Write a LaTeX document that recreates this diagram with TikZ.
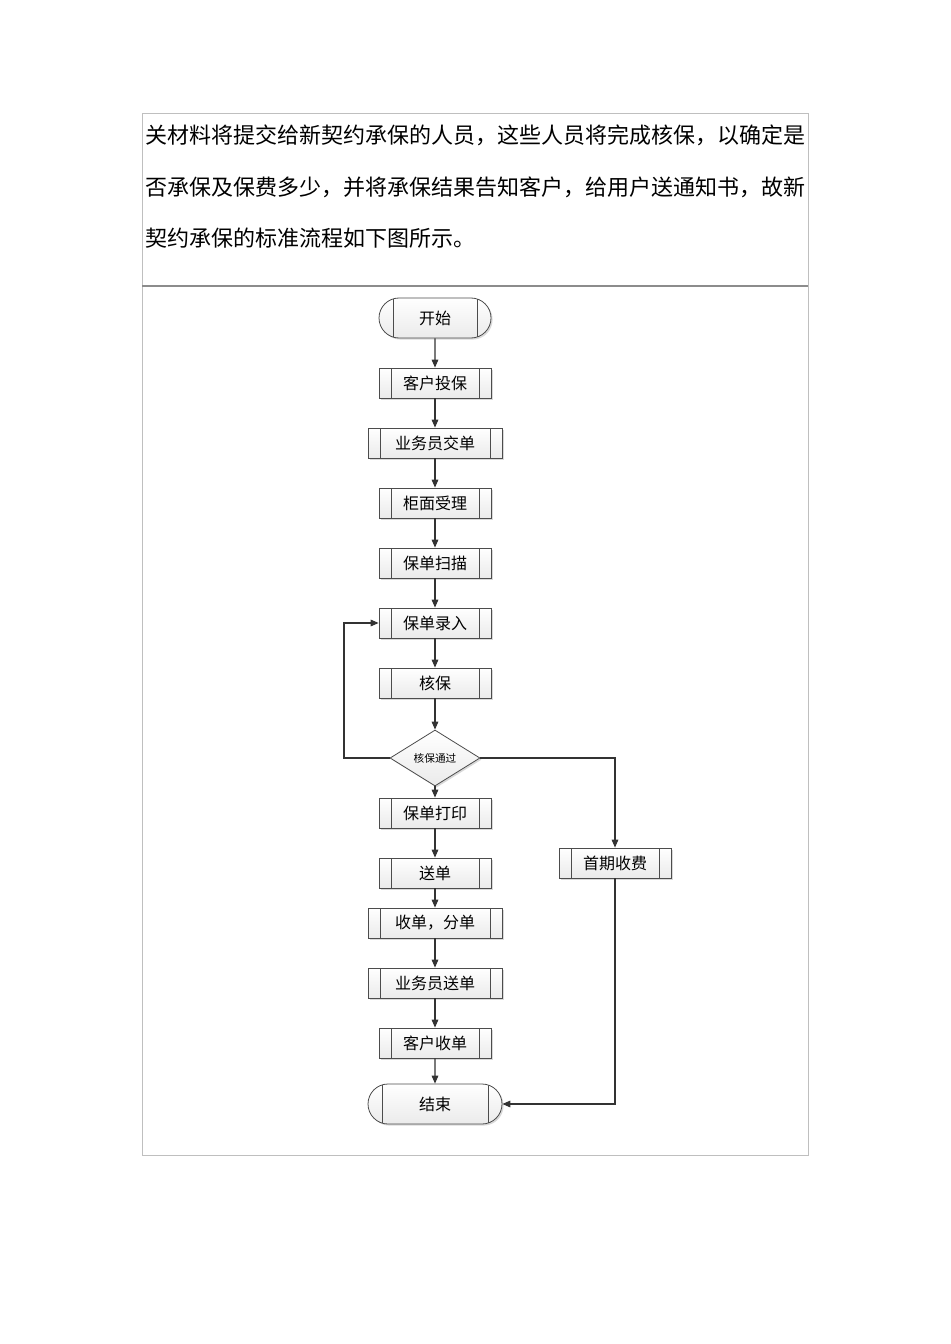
\documentclass[tikz,border=0pt]{standalone}
\usepackage{fontspec}
\setmainfont{Noto Sans CJK SC}
\usetikzlibrary{shapes.geometric,shapes.misc,arrows.meta,shadows}
\begin{document}
\begin{tikzpicture}[x=0.75pt,y=-0.75pt,
  base/.style={draw=black!70,line width=0.6pt,top color=white,bottom color=black!8,
    drop shadow={shadow xshift=1.2pt,shadow yshift=-1.2pt,fill=black!25,opacity=0.6},
    font=\fontsize{12pt}{14pt}\selectfont,inner sep=0pt},
  proc/.style={base,rectangle,minimum width=84pt,minimum height=22.5pt,
    path picture={\draw[black!70,line width=0.6pt]
      ([xshift=9pt]path picture bounding box.north west)--([xshift=9pt]path picture bounding box.south west)
      ([xshift=-9pt]path picture bounding box.north east)--([xshift=-9pt]path picture bounding box.south east);}},
  wide/.style={proc,minimum width=100.5pt},
  term/.style={base,rounded rectangle,minimum width=84pt,minimum height=30pt,
    path picture={\draw[black!70,line width=0.6pt]
      ([xshift=10.5pt]path picture bounding box.north west)--([xshift=10.5pt]path picture bounding box.south west)
      ([xshift=-10.5pt]path picture bounding box.north east)--([xshift=-10.5pt]path picture bounding box.south east);}},
  dec/.style={base,diamond,aspect=1.6,minimum width=67.5pt,minimum height=42pt,font=\fontsize{8pt}{9pt}\selectfont},
  arr/.style={-{Triangle[length=6pt,width=5pt]},line width=0.8pt,black!80}]
\useasboundingbox (0,0) rectangle (950,1344);
\draw[black!25,line width=0.6pt] (142,113) rectangle (808,1155);
\draw[black!45,line width=0.8pt] (142,286) -- (808,286);
\foreach \y/\t in {135/关材料将提交给新契约承保的人员，这些人员将完成核保，以确定是,
                   187/否承保及保费多少，并将承保结果告知客户，给用户送通知书，故新,
                   238/契约承保的标准流程如下图所示。}
  \node[anchor=west,inner sep=0pt,font=\fontsize{16.5pt}{18pt}\selectfont] at (145,\y) {\t};
\node[term] (start) at (435,318) {开始};
\node[proc] (n1) at (435,383) {客户投保};
\node[wide] (n2) at (435,443) {业务员交单};
\node[proc] (n3) at (435,503) {柜面受理};
\node[proc] (n4) at (435,563) {保单扫描};
\node[proc] (n5) at (435,623) {保单录入};
\node[proc] (n6) at (435,683) {核保};
\node[dec]  (d)  at (435,758) {核保通过};
\node[proc] (n7) at (435,813) {保单打印};
\node[proc] (n8) at (435,873) {送单};
\node[wide] (n9) at (435,923) {收单，分单};
\node[wide] (n10) at (435,983) {业务员送单};
\node[proc] (n11) at (435,1043) {客户收单};
\node[term,minimum width=100.5pt] (end) at (435,1104) {结束};
\node[proc] (fee) at (615,863) {首期收费};
\draw[arr] (start)--(n1);
\draw[arr] (n1)--(n2);
\draw[arr] (n2)--(n3);
\draw[arr] (n3)--(n4);
\draw[arr] (n4)--(n5);
\draw[arr] (n5)--(n6);
\draw[arr] (n6)--(d);
\draw[arr] (d)--(n7);
\draw[arr] (n7)--(n8);
\draw[arr] (n8)--(n9);
\draw[arr] (n9)--(n10);
\draw[arr] (n10)--(n11);
\draw[arr] (n11)--(end);
\draw[arr] (d.west) -- (344,758) |- (n5.west);
\draw[arr] (d.east) -| (fee.north);
\draw[arr] (fee.south) |- (end.east);
\end{tikzpicture}
\end{document}
